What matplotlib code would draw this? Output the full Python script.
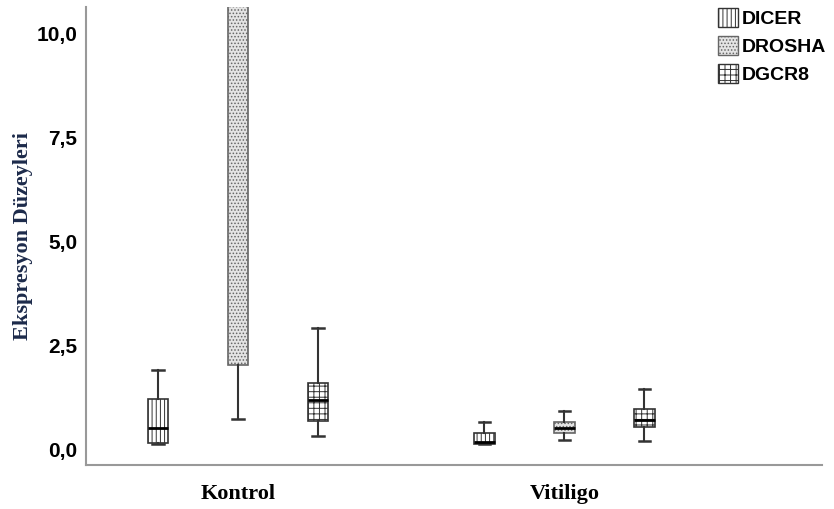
import matplotlib.pyplot as plt
from matplotlib.patches import Patch
import matplotlib as mpl

mpl.rcParams['hatch.linewidth'] = 0.7

groups = ["Kontrol", "Vitiligo"]
genes = ["DICER", "DROSHA", "DGCR8"]
hatches = ["||||", ".....", "+++"]
fills = ["white", "#e4e4e4", "white"]
edges = ["#333333", "#666666", "#333333"]

# box stats per gene, one value per group (Kontrol, Vitiligo)
whislo = {"DICER": [0.12, 0.12], "DROSHA": [0.72, 0.22], "DGCR8": [0.31, 0.19]}
q1 = {"DICER": [0.14, 0.13], "DROSHA": [2.02, 0.38], "DGCR8": [0.67, 0.53]}
med = {"DICER": [0.5, 0.17], "DROSHA": [11.5, 0.5], "DGCR8": [1.18, 0.70]}
q3 = {"DICER": [1.2, 0.38], "DROSHA": [13.0, 0.65], "DGCR8": [1.59, 0.96]}
whishi = {"DICER": [1.9, 0.65], "DROSHA": [14.0, 0.91], "DGCR8": [2.91, 1.44]}

offsets = [-0.245, 0.0, 0.245]

fig = plt.figure(figsize=(8.34, 5.09), dpi=100)
ax = fig.add_axes([0.103, 0.0864, 0.883, 0.9])

for i, g in enumerate(genes):
    stats = []
    for j in range(len(groups)):
        stats.append(dict(whislo=whislo[g][j], q1=q1[g][j], med=med[g][j],
                          q3=q3[g][j], whishi=whishi[g][j], fliers=[]))
    pos = [j + offsets[i] for j in range(len(groups))]
    bp = ax.bxp(stats, positions=pos, widths=0.064, patch_artist=True,
                showfliers=False, capwidths=0.034,
                boxprops=dict(edgecolor=edges[i], linewidth=1.2),
                medianprops=dict(color="black", linewidth=2),
                whiskerprops=dict(color="#333333", linewidth=1.5),
                capprops=dict(color="#333333", linewidth=1.8))
    for b in bp["boxes"]:
        b.set_facecolor(fills[i])
        b.set_hatch(hatches[i])

ax.set_xlim(-0.466, 1.79)
ax.set_ylim(-0.385, 10.63)
ax.set_yticks([0, 2.5, 5, 7.5, 10])
ax.set_yticklabels(["0,0", "2,5", "5,0", "7,5", "10,0"],
                   fontfamily="Liberation Sans", fontweight="bold", fontsize=15)
ax.set_xticks([0, 1])
ax.set_xticklabels(groups, fontfamily="Liberation Serif", fontweight="bold", fontsize=16)
ax.tick_params(axis="y", length=0, pad=6)
ax.tick_params(axis="x", length=0, pad=14)
ax.set_ylabel("Ekspresyon Düzeyleri", fontfamily="Liberation Serif",
              fontweight="bold", fontsize=16, color="#1c2a4a")
ax.yaxis.set_label_coords(-0.072, 0.5)

for s in ["top", "right"]:
    ax.spines[s].set_visible(False)
for s in ["left", "bottom"]:
    ax.spines[s].set_color("#999999")
    ax.spines[s].set_linewidth(1.5)

handles = [Patch(facecolor=fills[i], edgecolor=edges[i], hatch=hatches[i])
           for i in range(len(genes))]
leg = fig.legend(handles, genes, loc="upper left", bbox_to_anchor=(0.855, 0.994),
                 frameon=False, handlelength=1.05, handleheight=1.15,
                 handletextpad=0.15, labelspacing=0.4, borderpad=0.25,
                 borderaxespad=0,
                 prop=dict(family="Liberation Sans", weight="bold", size=14))

fig.savefig("out.png", dpi=100)
